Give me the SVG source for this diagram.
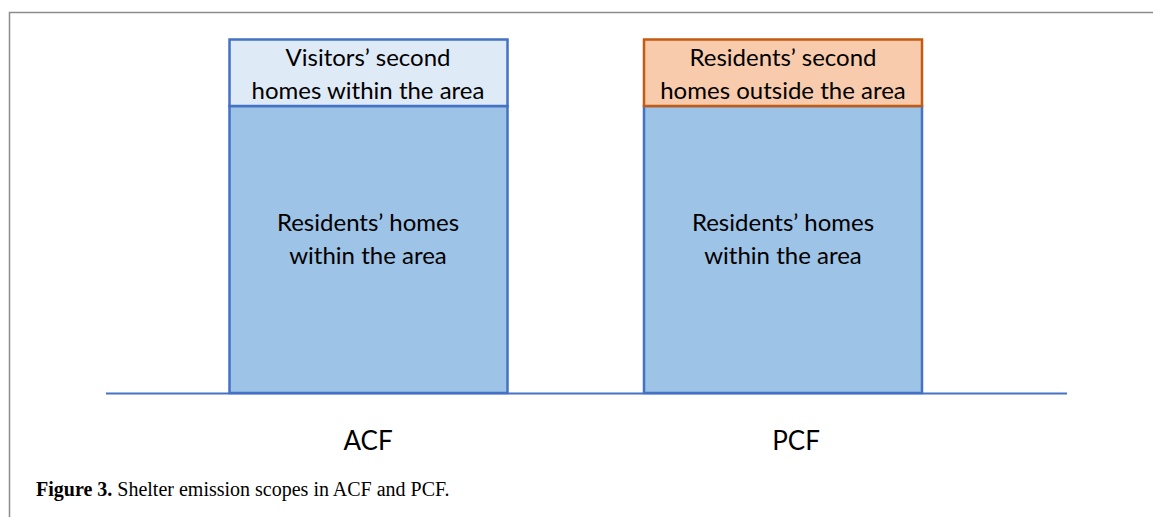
<svg xmlns="http://www.w3.org/2000/svg" width="1153" height="517" viewBox="0 0 1153 517">
<style>
.t{font-family:Lato,"Open Sans","Liberation Sans",sans-serif;font-size:24px;fill:#000;text-anchor:middle}
.lab{font-family:Lato,"Open Sans","Liberation Sans",sans-serif;font-size:26px;fill:#000;text-anchor:middle}
.blue{fill:#9DC3E6;stroke:#4472C4;stroke-width:2.5}
.lb{fill:#DEEBF7;stroke:#4472C4;stroke-width:2.5}
.or{fill:#F8CBAD;stroke:#C55A11;stroke-width:2.5}
.cap{font-family:"Liberation Serif",serif;font-size:20px;fill:#000}
</style>
<rect width="1153" height="517" fill="#fff"/>
<path d="M9.5 517 V12.5 H1153" fill="none" stroke="#8c8c8c" stroke-width="1.5"/>
<g id="acf-main"><rect class="blue" x="229.5" y="106" width="278" height="287"/>
<text class="t" x="368" y="231">Residents’ homes</text><text class="t" x="368" y="264">within the area</text></g>
<g id="acf-top"><rect class="lb" x="229.5" y="39.5" width="278" height="66.5"/>
<text class="t" x="368" y="66">Visitors’ second</text><text class="t" x="368" y="99">homes within the area</text></g>
<g id="pcf-main"><rect class="blue" x="644" y="106" width="278" height="287"/>
<text class="t" x="783" y="231">Residents’ homes</text><text class="t" x="783" y="264">within the area</text></g>
<g id="pcf-top"><rect class="or" x="644" y="39.5" width="278" height="66.5"/>
<text class="t" x="783" y="66">Residents’ second</text><text class="t" x="783" y="99">homes outside the area</text></g>
<g id="connectors"><line x1="106" y1="393.5" x2="1067" y2="393.5" stroke="#4472C4" stroke-width="2"/></g>
<g id="labels"><text class="lab" x="368" y="450">ACF</text><text class="lab" x="796" y="450">PCF</text></g>
<text class="cap" x="36" y="496"><tspan font-weight="bold">Figure 3.</tspan> Shelter emission scopes in ACF and PCF.</text>
</svg>
